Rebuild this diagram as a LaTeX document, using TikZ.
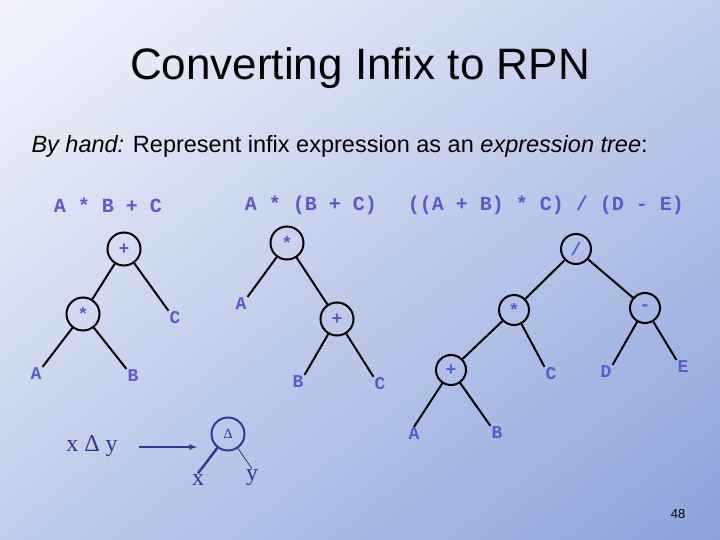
\documentclass[tikz,border=0pt]{standalone}
\usetikzlibrary{shadings}
\usepackage{fontspec}
\setmainfont{Liberation Sans}
\newfontfamily\monof{Liberation Mono}
\newfontfamily\serf{Liberation Serif}
\definecolor{lab}{HTML}{5A5ACD}
\definecolor{bgA}{HTML}{F4F5FB}
\definecolor{bgB}{HTML}{8CA2DA}
\definecolor{bgM}{HTML}{C2CDEC}
\definecolor{dkb}{HTML}{2E3A8C}
\begin{document}
\begin{tikzpicture}[x=1pt,y=-1pt,
  op/.style={circle,draw=black,line width=2pt,minimum size=33pt,inner sep=0pt,text=lab,font=\monof\bfseries\fontsize{18}{18}\selectfont},
  lf/.style={text=lab,font=\monof\bfseries\fontsize{18}{18}\selectfont,inner sep=1pt},
  ex/.style={text=lab,font=\monof\bfseries\fontsize{20}{20}\selectfont},
  ed/.style={line width=2pt}]
\shade[upper left=bgA,lower right=bgB,upper right=bgM,lower left=bgM] (0,0) rectangle (720,540);
\useasboundingbox (0,0) rectangle (720,540);
\node (title) at (360,68) {\fontsize{44}{46}\selectfont Converting Infix to RPN};
\node[anchor=west] (sub) at (28,146) {\fontsize{23.5}{26}\selectfont\textit{By hand:} Represent infix expression as an \textit{expression tree}:};
\node[ex] (e1) at (108,205) {A * B + C};
\node[ex] (e2) at (311,205) {A * (B + C)};
\node[ex] (e3) at (546,205) {((A + B) * C) / (D - E)};
% tree 1
\node[op] (p1) at (124,249) {+};
\node[op] (m1) at (83,314) {*};
\node[lf] (a1) at (36,374) {A};
\node[lf] (b1) at (133,376) {B};
\node[lf] (c1) at (175,318) {C};
\draw[ed] (p1) -- (m1); \draw[ed] (p1) -- (c1.north west);
\draw[ed] (m1) -- (a1.north east); \draw[ed] (m1) -- (b1.north west);
% tree 2
\node[op] (m2) at (287,243) {*};
\node[op] (p2) at (337,319) {+};
\node[lf] (a2) at (241,304) {A};
\node[lf] (b2) at (298,382) {B};
\node[lf] (c2) at (380,384) {C};
\draw[ed] (m2) -- (a2.north east); \draw[ed] (m2) -- (p2);
\draw[ed] (p2) -- (b2.north east); \draw[ed] (p2) -- (c2.north west);
% tree 3
\node[op,minimum size=30pt] (d3) at (576,249) {/};
\node[op,minimum size=30pt] (m3) at (514,310) {*};
\node[op,minimum size=30pt] (s3) at (645,308) {-};
\node[op,minimum size=30pt] (p3) at (451,370) {+};
\node[lf] (c3) at (551,374) {C};
\node[lf] (d4) at (606,372) {D};
\node[lf] (e4) at (683,367) {E};
\node[lf] (a3) at (414,434) {A};
\node[lf] (b3) at (497,433) {B};
\draw[ed] (d3) -- (m3); \draw[ed] (d3) -- (s3);
\draw[ed] (m3) -- (p3); \draw[ed] (m3) -- (c3.north west);
\draw[ed] (s3) -- (d4.north east); \draw[ed] (s3) -- (e4.north west);
\draw[ed] (p3) -- (a3.north); \draw[ed] (p3) -- (b3.north west);
% delta
\node[text=dkb,font=\serf\fontsize{24}{24}\selectfont] (xdy) at (92,446) {x\ Δ\ y};
\node[circle,draw=dkb,line width=2pt,minimum size=33pt,inner sep=0pt,text=dkb,font=\serf\fontsize{14}{14}\selectfont] (dl) at (228,434) {Δ};
\node[text=dkb,font=\serf\fontsize{24}{24}\selectfont,inner sep=1pt] (xl) at (198,480) {x};
\node[text=dkb,font=\serf\fontsize{24}{24}\selectfont,inner sep=1pt] (yl) at (252,478) {y};
\coordinate (ar1) at (139,447);
\coordinate (ar2) at (197,447);
\draw[dkb,line width=1.6pt,-latex] (ar1) -- (ar2);
\draw[dkb,line width=2.4pt] (dl) -- (xl.north);
\draw[black,line width=0.5pt] (dl) -- (yl.north);
\node (pg) at (678,514) {\fontsize{13}{13}\selectfont 48};
\end{tikzpicture}
\end{document}
